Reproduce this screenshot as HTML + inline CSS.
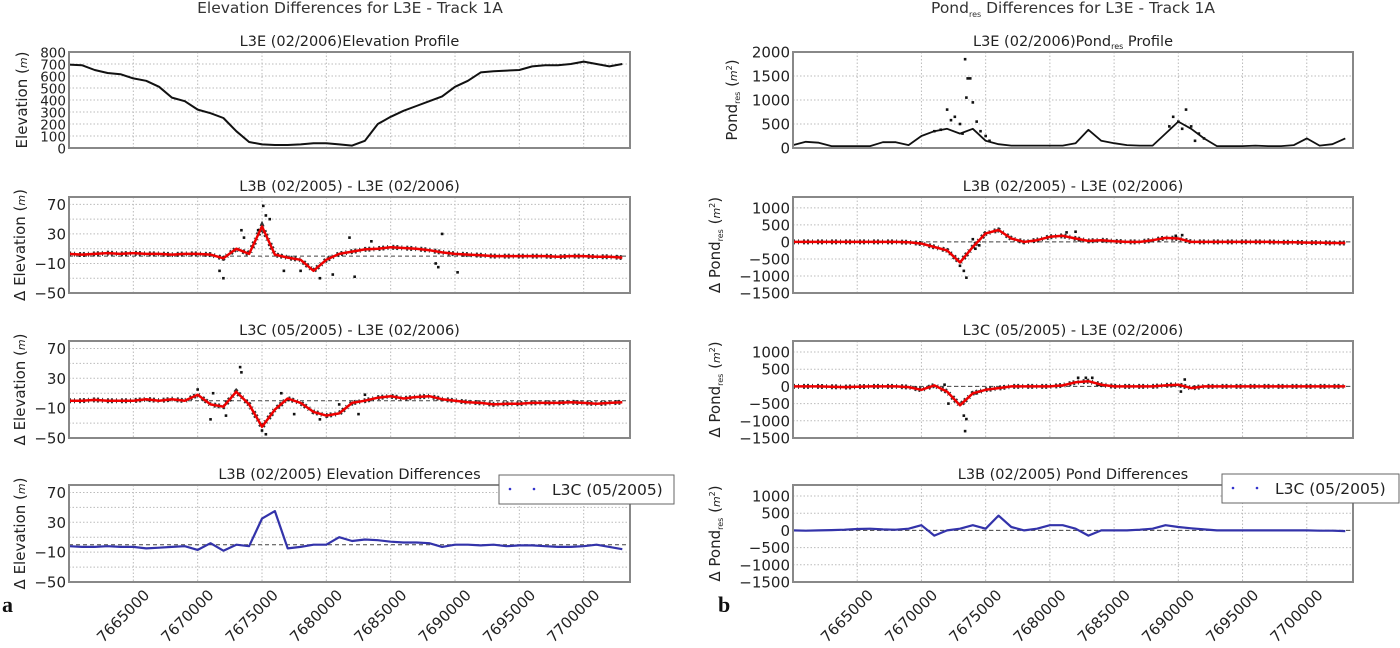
<!DOCTYPE html>
<html><head><meta charset="utf-8"><style>
body{margin:0;background:#fff;}
svg{display:block;font-family:"DejaVu Sans","Liberation Sans",sans-serif;}
</style></head><body>
<svg id="fig" width="1400" height="648" viewBox="0 0 1400 648" xmlns="http://www.w3.org/2000/svg">
<text x="350" y="13" text-anchor="middle" font-size="15.5" fill="#333">Elevation Differences for L3E - Track 1A</text>
<text x="1073" y="13" text-anchor="middle" font-size="15.5" fill="#333">Pond<tspan font-size="8" dy="4">res</tspan><tspan dy="-4"> Differences for L3E - Track 1A</tspan></text>
<text x="2" y="612" font-family="Liberation Serif,serif" font-weight="bold" font-size="22" fill="#111">a</text>
<text x="718" y="612" font-family="Liberation Serif,serif" font-weight="bold" font-size="22" fill="#111">b</text>
</svg>
<script>
// x positions (northing, per 1000 m from 7660000)
const northing = [];
for (let i = 0; i < 44; i++) northing.push(7660000 + i * 1000);
const xTicks = [7665000,7670000,7675000,7680000,7685000,7690000,7695000,7700000];
const xTickLabels = ["7665000","7670000","7675000","7680000","7685000","7690000","7695000","7700000"];

const elevProfile = [695,690,650,625,615,580,560,510,420,390,320,290,250,140,50,30,25,25,30,40,40,30,20,60,200,260,310,350,390,430,510,560,630,640,645,650,680,690,690,700,720,700,680,700];
const elevDiffB = [3,2,3,4,3,4,3,3,2,3,3,2,-3,10,3,40,2,-2,-5,-20,-5,3,6,9,10,12,11,10,8,5,3,2,1,0,0,0,0,0,-1,0,0,-1,-1,-2];
const elevDiffBScatterX = [7671700,7672000,7673400,7673600,7674700,7675100,7675300,7675600,7676700,7678000,7679500,7680500,7681800,7682200,7683500,7688700,7689000,7690200,7688500];
const elevDiffBScatterY = [-20,-30,35,25,35,68,55,50,-20,-20,-30,-25,25,-28,20,-15,30,-22,-10];
const elevDiffC = [0,0,1,0,0,0,2,0,2,0,8,-5,-8,12,-5,-35,-12,3,-3,-15,-20,-17,-3,0,4,6,3,5,6,2,0,-2,-3,-5,-4,-4,-3,-3,-3,-2,-3,-4,-3,-2];
const elevDiffCScatterX = [7670000,7671000,7671200,7672200,7673300,7673400,7675000,7675300,7676500,7677500,7679500,7681000,7682500,7683000];
const elevDiffCScatterY = [15,-25,10,-20,45,38,-40,-45,10,-18,-25,-5,-18,8];
const elevBvsC = [-2,-3,-3,-2,-3,-3,-5,-4,-3,-2,-7,2,-8,0,-2,35,45,-5,-3,0,0,10,5,7,6,4,3,3,2,-3,0,0,-1,0,-2,-1,-1,-2,-3,-3,-2,0,-3,-6];

const pondProfile = [60,130,110,40,40,40,40,120,120,60,250,350,400,300,400,150,80,50,50,50,50,50,100,380,150,100,60,50,50,300,550,400,200,40,40,40,50,40,40,60,200,50,80,200];
const pondScatterX = [7671000,7671500,7672000,7672300,7672600,7673000,7673200,7673400,7673600,7673800,7673500,7674000,7674300,7674600,7675000,7675300,7689300,7689600,7690000,7690300,7690600,7691000,7691300,7691600,7692000];
const pondScatterY = [350,380,800,580,650,500,300,1850,1450,1450,1050,950,550,350,250,150,450,650,550,400,800,450,150,300,200];
const pondDiffB = [0,0,0,0,0,0,0,0,0,-10,-50,-150,-250,-600,-150,250,350,100,0,50,150,180,100,30,50,20,0,0,50,120,100,0,0,0,0,0,0,0,-10,-10,-20,-20,-30,-30];
const pondDiffBScatterX = [7672300,7673300,7673500,7673000,7674200,7674500,7674000,7681300,7682000,7682300,7689800,7690300];
const pondDiffBScatterY = [-350,-850,-1050,-700,-200,-100,80,280,300,50,180,200];
const pondDiffC = [0,0,0,-10,-20,-10,0,0,0,-20,-100,30,-150,-550,-200,-100,-50,0,0,0,0,30,120,150,50,0,0,0,0,30,50,-50,0,0,0,0,0,0,0,0,0,0,0,0];
const pondDiffCScatterX = [7671800,7672100,7673300,7673500,7673400,7674200,7674500,7682200,7682800,7683300,7683800,7690500,7690200];
const pondDiffCScatterY = [50,-500,-850,-950,-1300,-200,-150,250,250,250,50,200,-150];
const pondBvsC = [0,-10,0,10,20,40,50,30,20,50,150,-150,0,50,150,50,430,100,0,50,150,150,50,-150,0,0,0,20,50,150,100,60,30,0,0,0,0,0,0,0,0,-10,-10,-20];

const elevTicks = [0,100,200,300,400,500,600,700,800];
const diffTicks = [-50,-10,30,70];
const pondTicks = [0,500,1000,1500,2000];
const pondDiffTicks = [-1500,-1000,-500,0,500,1000];

const NS = "http://www.w3.org/2000/svg";
const svg = document.getElementById('fig');
function mk(tag, attrs, parent) {
  const e = document.createElementNS(NS, tag);
  for (const k in attrs) e.setAttribute(k, attrs[k]);
  (parent || svg).appendChild(e);
  return e;
}
const XMIN = 7660000, XMAX = 7703600;

function panel(o) {
  const g = mk('g', {});
  
  
  const xs = v => o.x0 + (v - XMIN) / (XMAX - XMIN) * (o.x1 - o.x0);
  const ys = v => o.y1 - (v - o.ymin) / (o.ymax - o.ymin) * (o.y1 - o.y0);
  xTicks.forEach(t => {
    const l = mk('line', {x1: xs(t), x2: xs(t), y1: o.y0, y2: o.y1, stroke: '#bbb', 'stroke-width': 1, 'stroke-dasharray': '1.5 2'}, g);
    
    
  });
  o.gridY.forEach(t => {
    const l = mk('line', {x1: o.x0, x2: o.x1, y1: ys(t), y2: ys(t), stroke: '#bbb', 'stroke-width': 1, 'stroke-dasharray': '1.5 2'}, g);
    
    
  });
  if (o.zero) {
    const z = mk('line', {x1: o.x0, x2: o.x1, y1: ys(0), y2: ys(0), stroke: '#444', 'stroke-width': 1, 'stroke-dasharray': '4 3'}, g);
    
    
  }
  o.ticks.forEach(t => {
    const tx = mk('text', {x: o.x0 - 3, y: ys(t) + 5.5, 'text-anchor': 'end', 'font-size': o.tfs, fill: '#222'}, g);
    tx.textContent = String(t).replace('-', '\u2212');
    
    
  });
  const d = o.series.map((v, i) => (i ? 'L' : 'M') + xs(northing[i]).toFixed(1) + ' ' + ys(v).toFixed(1)).join(' ');
  if (o.noise) {
    const p = mk('path', {d, fill: 'none', stroke: '#111', 'stroke-width': 5, 'stroke-dasharray': '2 3 1 4 2 2', opacity: 0.85}, g);
    
    
  }
  if (o.sx) {
    o.sx.forEach((xv, i) => {
      const c = mk('rect', {x: xs(xv) - 1.3, y: ys(o.sy[i]) - 1.3, width: 2.6, height: 2.6, fill: '#111'}, g);
      
      
    });
  }
  const line = mk('path', {d, fill: 'none', stroke: o.color, 'stroke-width': o.lw, 'stroke-linejoin': 'round'}, g);
  
  
  const f = mk('rect', {x: o.x0, y: o.y0, width: o.x1 - o.x0, height: o.y1 - o.y0, fill: 'none', stroke: '#888', 'stroke-width': 2}, g);
  
  
  const tt = mk('text', {x: (o.x0 + o.x1) / 2, y: o.y0 - 6, 'text-anchor': 'middle', 'font-size': 14.5, fill: '#222'}, g);
  tt.innerHTML = o.title;
  
  
  const cy = (o.y0 + o.y1) / 2;
  const yl = mk('text', {x: 0, y: 0, transform: `translate(${o.ylx},${cy}) rotate(-90)`, 'text-anchor': 'middle', 'font-size': 15, fill: '#222'}, g);
  yl.innerHTML = o.ylabel;
  
  
  if (o.xlabels) {
    xTicks.forEach((t, i) => {
      const tx = mk('text', {x: 0, y: 0, transform: `translate(${xs(t) + 17},${o.y1 + 14}) rotate(-45)`, 'text-anchor': 'end', 'font-size': 15, fill: '#222'}, g);
      tx.textContent = xTickLabels[i];
      
      
    });
  }
  if (o.legend) {
    const lg = mk('g', {}, g);
    
    
    const L = o.legend;
    mk('rect', {x: L.x, y: L.y, width: L.w, height: 29, fill: '#fff', stroke: '#666', 'stroke-width': 1}, lg);
    mk('circle', {cx: L.x + 11, cy: L.y + 14, r: 1.3, fill: '#33c'}, lg);
    mk('circle', {cx: L.x + 35, cy: L.y + 14, r: 1.3, fill: '#33c'}, lg);
    const lt = mk('text', {x: L.x + 53, y: L.y + 20, 'font-size': 15.5, fill: '#222'}, lg);
    lt.textContent = 'L3C (05/2005)';
    
    
  }
}
const LX0 = 69, LX1 = 630, RX0 = 793, RX1 = 1353;
const rows = [[52,148],[197,293],[341,438],[485,582]];
const dEl = 'Δ Elevation (<tspan font-style="italic" font-size="11">m</tspan>)';
const dPond = 'Δ Pond<tspan font-size="8" dy="3">res</tspan><tspan dy="-3"> (</tspan><tspan font-style="italic" font-size="11">m</tspan><tspan font-size="8" dy="-5">2</tspan><tspan dy="5">)</tspan>';
panel({name:'elevation-profile-panel', x0:LX0,x1:LX1,y0:rows[0][0],y1:rows[0][1],ymin:0,ymax:800,ticks:elevTicks,gridY:elevTicks,tfs:13.5,series:elevProfile,color:'#111',lw:2,seriesName:'elevation-line',title:'L3E (02/2006)Elevation Profile',ylabel:'Elevation (<tspan font-style="italic" font-size="11">m</tspan>)',ylx:27});
panel({name:'elevation-diff-b-panel', x0:LX0,x1:LX1,y0:rows[1][0],y1:rows[1][1],ymin:-50,ymax:80,ticks:diffTicks,gridY:[-30,-10,10,30,50,70],tfs:15,zero:true,noise:true,series:elevDiffB,sx:elevDiffBScatterX,sy:elevDiffBScatterY,color:'#e00',lw:2.5,seriesName:'smoothed-diff-line',title:'L3B (02/2005) - L3E (02/2006)',ylabel:dEl,ylx:25});
panel({name:'elevation-diff-c-panel', x0:LX0,x1:LX1,y0:rows[2][0],y1:rows[2][1],ymin:-50,ymax:80,ticks:diffTicks,gridY:[-30,-10,10,30,50,70],tfs:15,zero:true,noise:true,series:elevDiffC,sx:elevDiffCScatterX,sy:elevDiffCScatterY,color:'#e00',lw:2.5,seriesName:'smoothed-diff-line',title:'L3C (05/2005) - L3E (02/2006)',ylabel:dEl,ylx:25});
panel({name:'elevation-b-vs-c-panel', x0:LX0,x1:LX1,y0:rows[3][0],y1:rows[3][1],ymin:-50,ymax:80,ticks:diffTicks,gridY:[-30,-10,10,30,50,70],tfs:15,zero:true,series:elevBvsC,color:'#33a',lw:2.2,seriesName:'l3c-diff-line',title:'L3B (02/2005) Elevation Differences',ylabel:dEl,ylx:25,xlabels:true,legend:{x:499,y:475,w:175}});
panel({name:'pond-profile-panel', x0:RX0,x1:RX1,y0:rows[0][0],y1:rows[0][1],ymin:0,ymax:2000,ticks:pondTicks,gridY:pondTicks,tfs:15,series:pondProfile,color:'#111',lw:1.8,sx:pondScatterX,sy:pondScatterY,seriesName:'pond-line',title:'L3E (02/2006)Pond<tspan font-size="8" dy="3">res</tspan><tspan dy="-3"> Profile</tspan>',ylabel:'Pond<tspan font-size="8" dy="3">res</tspan><tspan dy="-3"> (</tspan><tspan font-style="italic" font-size="11">m</tspan><tspan font-size="8" dy="-5">2</tspan><tspan dy="5">)</tspan>',ylx:737});
panel({name:'pond-diff-b-panel', x0:RX0,x1:RX1,y0:rows[1][0],y1:rows[1][1],ymin:-1500,ymax:1320,ticks:pondDiffTicks,gridY:pondDiffTicks,tfs:15,zero:true,noise:true,series:pondDiffB,sx:pondDiffBScatterX,sy:pondDiffBScatterY,color:'#e00',lw:2.5,seriesName:'smoothed-diff-line',title:'L3B (02/2005) - L3E (02/2006)',ylabel:dPond,ylx:720});
panel({name:'pond-diff-c-panel', x0:RX0,x1:RX1,y0:rows[2][0],y1:rows[2][1],ymin:-1500,ymax:1320,ticks:pondDiffTicks,gridY:pondDiffTicks,tfs:15,zero:true,noise:true,series:pondDiffC,sx:pondDiffCScatterX,sy:pondDiffCScatterY,color:'#e00',lw:2.5,seriesName:'smoothed-diff-line',title:'L3C (05/2005) - L3E (02/2006)',ylabel:dPond,ylx:720});
panel({name:'pond-b-vs-c-panel', x0:RX0,x1:RX1,y0:rows[3][0],y1:rows[3][1],ymin:-1500,ymax:1320,ticks:pondDiffTicks,gridY:pondDiffTicks,tfs:15,zero:true,series:pondBvsC,color:'#33a',lw:2.2,seriesName:'l3c-diff-line',title:'L3B (02/2005) Pond Differences',ylabel:dPond,ylx:720,xlabels:true,legend:{x:1222,y:474,w:177}});
</script>
</body></html>
